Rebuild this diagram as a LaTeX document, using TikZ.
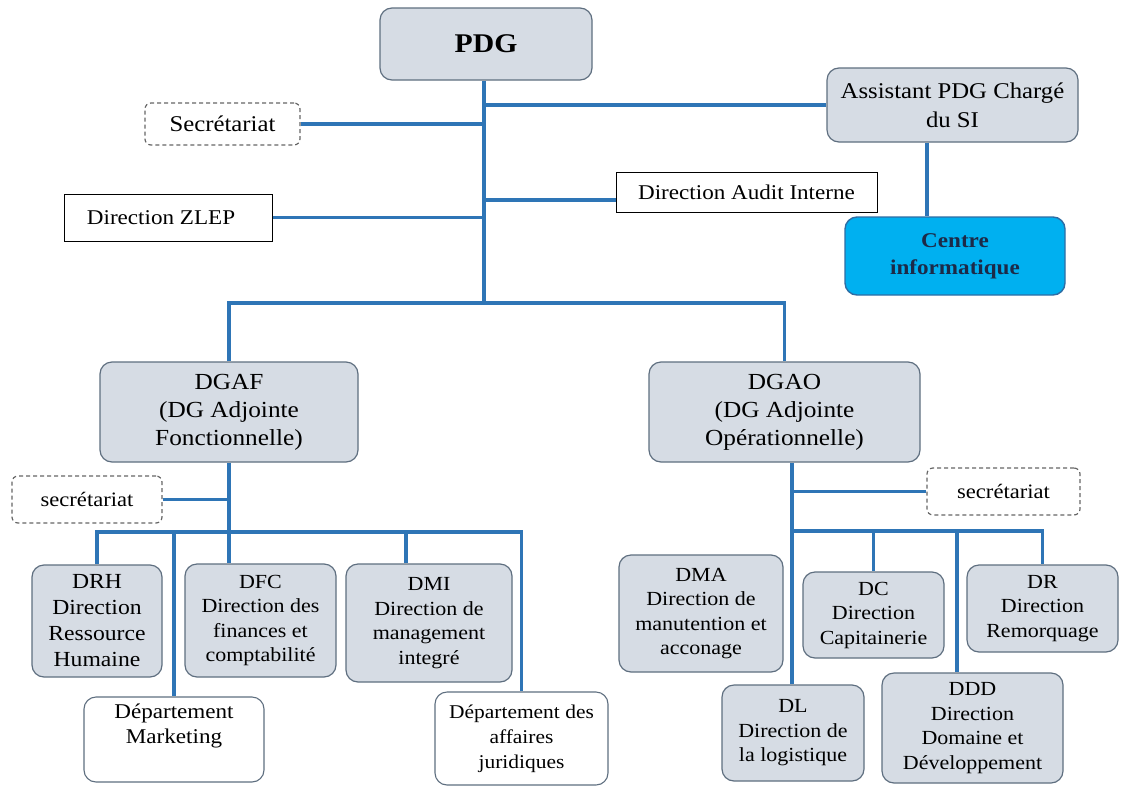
\documentclass[tikz,border=0pt]{standalone}
\usepackage{fontspec}
\setmainfont{Liberation Serif}[FakeStretch=1.1]
\newcommand\myfs[2]{\fontsize{#1}{#2}\selectfont}
\definecolor{grayf}{HTML}{D6DCE4}
\definecolor{bordc}{HTML}{5F6F80}
\definecolor{linec}{HTML}{2E75B6}
\definecolor{cif}{HTML}{00B0F0}
\definecolor{cib}{HTML}{2E6DA4}
\definecolor{navy}{HTML}{1C2A48}
\newcommand\mybox[7]{\node[#6, minimum width={#4-#2}, minimum height={#5-#3}] (#1) at ({(#2+#4)/2},{(#3+#5)/2}) {#7};}
\tikzset{
  base/.style={inner sep=0pt, align=center, text=black},
  gbox/.style={base, draw=bordc, fill=grayf, rounded corners=12pt, line width=1.2pt, font=\myfs{20}{24.5}},
  wbox/.style={base, draw=bordc, fill=white, rounded corners=12pt, line width=1.1pt, font=\myfs{20}{24.5}},
  dbox/.style={base, draw=black!60, fill=white, dash pattern=on 4pt off 3pt, rounded corners=6pt, line width=1.2pt},
  pbox/.style={base, draw=black, fill=white, line width=1pt, font=\myfs{21}{25}},
  cbox/.style={base, draw=cib, fill=cif, rounded corners=12pt, line width=1.4pt, font=\bfseries\myfs{21}{27}, text=navy},
  conn/.style={draw=linec, line width=3.2pt},
}
\begin{document}
\begin{tikzpicture}[x=1pt,y=-1pt]
\fill[white] (0,0) rectangle (1121,787);
\useasboundingbox (0,0) rectangle (1121,787);
% top level
\mybox{pdg}{380}{8}{592}{80}{gbox, font=\bfseries\myfs{27}{30}}{PDG}
\mybox{asst}{827}{68}{1078}{142}{gbox, font=\myfs{22.5}{29}}{Assistant PDG Chargé\\du SI}
\mybox{ci}{845}{217}{1065}{295}{cbox}{Centre\\informatique}
\mybox{sec}{145}{103}{300}{145}{dbox, font=\myfs{22.5}{26}}{Secrétariat}
\mybox{zlep}{64}{194}{272}{241}{pbox}{Direction ZLEP\hspace*{14pt}}
\mybox{audit}{616}{172}{877}{212}{pbox}{Direction Audit Interne}
% second level
\mybox{dgaf}{100}{362}{358}{462}{gbox, font=\myfs{23}{28}}{DGAF\\(DG Adjointe\\Fonctionnelle)}
\mybox{dgao}{649}{362}{920}{462}{gbox, font=\myfs{23}{28}}{DGAO\\(DG Adjointe\\Opérationnelle)}
\mybox{secL}{12}{476}{162}{523}{dbox, font=\myfs{20.5}{24}}{secrétariat}
\mybox{secR}{927}{468}{1080}{515}{dbox, font=\myfs{20.5}{24}}{secrétariat}
% left branch
\mybox{drh}{32}{565}{162}{677}{gbox, font=\myfs{21.5}{26}}{DRH\\Direction\\Ressource\\Humaine}
\mybox{dfc}{185}{564}{336}{677}{gbox}{DFC\\Direction des\\finances et\\comptabilité}
\mybox{dmi}{346}{564}{512}{682}{gbox}{DMI\\Direction de\\management\\integré}
\mybox{mkt}{84}{697}{264}{782}{wbox, font=\myfs{21}{25}}{Département\\Marketing\\\strut}
\mybox{jur}{435}{692}{608}{785}{wbox, font=\myfs{19.5}{25}}{Département des\\affaires\\juridiques}
% right branch
\mybox{dma}{619}{555}{783}{672}{gbox}{DMA\\Direction de\\manutention et\\acconage}
\mybox{dc}{803}{572}{944}{658}{gbox}{DC\\Direction\\Capitainerie}
\mybox{dr}{967}{565}{1118}{652}{gbox}{DR\\Direction\\Remorquage}
\mybox{dl}{722}{685}{864}{781}{gbox}{DL\\Direction de\\la logistique}
\mybox{ddd}{882}{673}{1063}{783}{gbox}{DDD\\Direction\\Domaine et\\Développement}
% junction coordinates
\coordinate (jt) at (484,303);
\coordinate (ay) at (0,200);
\coordinate (ax) at (927,0);
\coordinate (lb) at (229,532);
\coordinate (dmx) at (406,0);
\coordinate (rb) at (792,531);
\coordinate (ddx) at (957,0);
% connectors: top
\draw[conn] (pdg.south -| jt) -- (jt);
\draw[conn] (asst.west) -- (asst.west -| jt);
\draw[conn] (sec.east) -- (sec.east -| jt);
\draw[conn] (zlep.east) -- (zlep.east -| jt);
\draw[conn] (audit.west |- ay) -- (jt |- ay);
\draw[conn] (ax |- asst.south) -- (ax |- ci.north);
\draw[conn] (dgaf.north) -- (dgaf.north |- jt) -- (dgao.north |- jt) -- (dgao.north);
% connectors: left
\draw[conn] (dgaf.south -| lb) -- (lb |- dfc.north);
\draw[conn] (secL.east) -- (secL.east -| lb);
\draw[conn] (drh.north) -- (drh.north |- lb) -- (jur.north |- lb) -- (jur.north);
\draw[conn] (mkt.north |- lb) -- (mkt.north);
\draw[conn] (dmx |- lb) -- (dmx |- dmi.north);
% connectors: right
\draw[conn] (dgao.south -| rb) -- (rb |- dl.north);
\draw[conn] (secR.west) -- (secR.west -| rb);
\draw[conn] (rb) -- (dr.north |- rb) -- (dr.north);
\draw[conn] (dc.north |- rb) -- (dc.north);
\draw[conn] (ddx |- rb) -- (ddx |- ddd.north);
\end{tikzpicture}
\end{document}
